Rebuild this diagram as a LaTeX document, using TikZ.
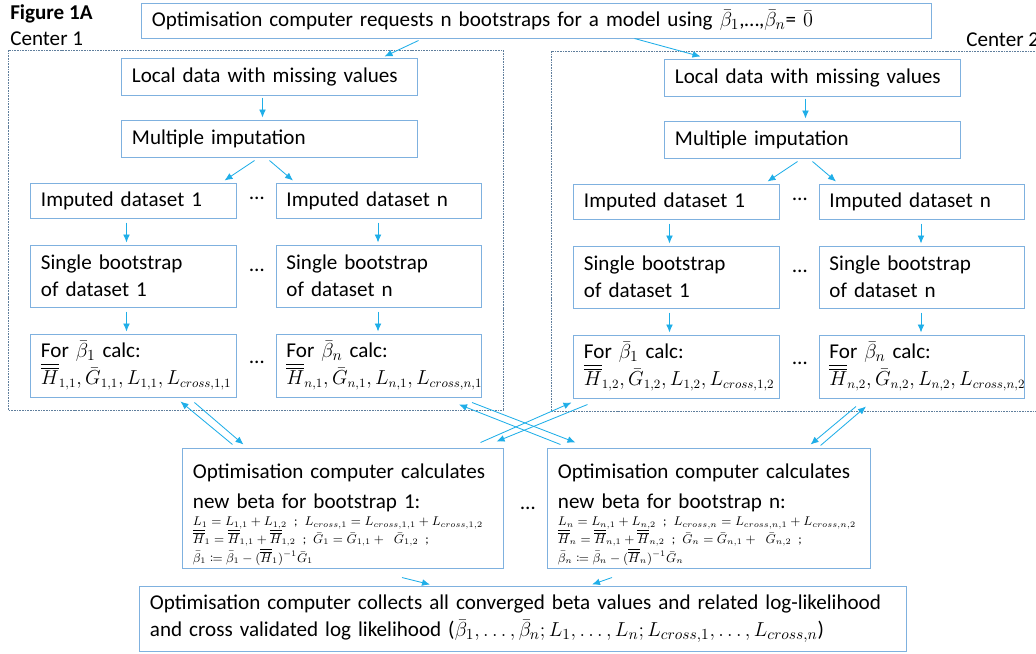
\documentclass[tikz,border=0pt]{standalone}
\usepackage{amsmath,amssymb}
\usepackage{mathtools}
\usepackage{fontspec}
\setmainfont{Carlito}
\usepackage{tikz}
\usetikzlibrary{positioning,arrows.meta,calc}

\definecolor{boxblue}{HTML}{7FB1DF}
\definecolor{arrblue}{HTML}{1FAEE8}
\definecolor{grpgray}{HTML}{5F7E9C}

\newcommand{\HH}{\overline{\overline{H}}}

\tikzset{
  box/.style={draw=boxblue,line width=0.7pt,align=left,inner xsep=0.25cm,inner ysep=0pt},
  smallbox/.style={box,text width=4.625cm},
  widebox/.style={box,text width=6.875cm},
  link/.style={->,draw=arrblue,line width=0.6pt},
  grp/.style={draw=grpgray,line width=0.5pt,dash pattern=on 1.2pt off 0.7pt},
}

\begin{document}
\begin{tikzpicture}[x=0.025cm,y=-0.025cm,>={Latex[length=2mm,width=1.7mm]},
    font=\fontsize{15}{19.5}\selectfont]
  \useasboundingbox (0,0) rectangle (1036,653);
  \clip (0,0) rectangle (1036,653);

  \node[anchor=base west,inner sep=0,font=\fontsize{15}{19.5}\selectfont\bfseries] (fig) at (10,19) {Figure 1A};
  \node[anchor=base west,inner sep=0] (cen1) at (10,45) {Center 1};
  \node[anchor=base west,inner sep=0] (cen2) at (966,46) {Center 2};

  \node[box,text width=19.225cm,minimum height=0.875cm] (req) at (536.5,20.5)
    {Optimisation computer requests n bootstraps for a model using $\bar{\beta}_1$,…,$\bar{\beta}_n$= $\bar{0}$};

  % one block per center
  \foreach \c/\dx/\dy in {1/0/0,2/543/1}{
    \begin{scope}[shift={(\dx,\dy)}]
      \draw[grp] (8,50) rectangle (503,410);
      \node[widebox,minimum height=0.925cm] (loc\c) at (269.5,76.5) {Local data with missing values};
      \node[widebox,minimum height=0.925cm] (mi\c) at (269.5,138.5) {Multiple imputation};
      \node[smallbox,minimum height=0.875cm] (impA\c) at (133.5,200.5) {Imputed dataset 1};
      \node[smallbox,minimum height=0.875cm] (impN\c) at (379,200.5) {Imputed dataset n};
      \node[smallbox,minimum height=1.55cm] (bootA\c) at (133.5,276) {Single bootstrap\\of dataset 1};
      \node[smallbox,minimum height=1.55cm] (bootN\c) at (379,276) {Single bootstrap\\of dataset n};
      \node[smallbox,minimum height=1.575cm] (forA\c) at (133.5,365.5)
        {For $\bar{\beta}_1$ calc:\\{\fontsize{13.5}{19.5}\selectfont$\HH_{1,\c}, \bar{G}_{1,\c}, L_{1,\c}, L_{cross,1,\c}$}};
      \node[smallbox,minimum height=1.575cm] (forN\c) at (379,365.5)
        {For $\bar{\beta}_n$ calc:\\{\fontsize{13.5}{19.5}\selectfont$\HH_{n,\c}, \bar{G}_{n,\c}, L_{n,\c}, L_{cross,n,\c}$}};
      \node (dotI\c) at (257,198) {…};
      \node (dotB\c) at (257,270) {…};
      \node (dotF\c) at (257,362) {…};
    \end{scope}
    \draw[link] ($(loc\c.south)+(-7,2)$) -- ($(mi\c.north)+(-7,-2)$);
    \draw[link] ($(mi\c.south)+(-15,3)$) -- ($(impA\c.north)+(91,-2)$);
    \draw[link] ($(mi\c.south)+(0,3)$) -- ($(impN\c.north)+(-86,-2)$);
    \draw[link] ($(impA\c.south)+(-7,4)$) -- ($(bootA\c.north)+(-7,-2)$);
    \draw[link] ($(impN\c.south)+(-1,4)$) -- ($(bootN\c.north)+(-1,-2)$);
    \draw[link] ($(bootA\c.south)+(-7,4)$) -- ($(forA\c.north)+(-7,-2)$);
    \draw[link] ($(bootN\c.south)+(-1,4)$) -- ($(forN\c.north)+(-1,-2)$);
  }

  \node[box,text width=7.5cm,minimum height=3cm] (calcA) at (343,508)
    {\fontsize{15}{21}\selectfont\rule{0pt}{20pt}Optimisation computer calculates\\new beta for bootstrap 1:\par
     \fontsize{9}{12.5}\selectfont
     $L_1 = L_{1,1} + L_{1,2}$ ; $L_{cross,1} = L_{cross,1,1} + L_{cross,1,2}$\\
     $\HH_1 = \HH_{1,1} + \HH_{1,2}$ ; $\bar{G}_1 = \bar{G}_{1,1} +\ \bar{G}_{1,2}$ ;\\[-6pt]
     $\bar{\beta}_1 \coloneqq \bar{\beta}_1 - (\HH_1)^{-1}\bar{G}_1$};
  \node[box,text width=7.55cm,minimum height=3cm] (calcB) at (709,508)
    {\fontsize{15}{21}\selectfont\rule{0pt}{20pt}Optimisation computer calculates\\new beta for bootstrap n:\par
     \fontsize{9}{12.5}\selectfont
     $L_n = L_{n,1} + L_{n,2}$ ; $L_{cross,n} = L_{cross,n,1} + L_{cross,n,2}$\\
     $\HH_n = \HH_{n,1} + \HH_{n,2}$ ; $\bar{G}_n = \bar{G}_{n,1} +\ \bar{G}_{n,2}$ ;\\[-6pt]
     $\bar{\beta}_n \coloneqq \bar{\beta}_n - (\HH_n)^{-1}\bar{G}_n$};
  \node (dotC) at (528,508) {…};

  \node[box,text width=18.65cm,minimum height=1.625cm] (fin) at (523,618.5)
    {\fontsize{15}{21}\selectfont Optimisation computer collects all converged beta values and related log-likelihood\\
     and cross validated log likelihood ($\bar{\beta}_1, \ldots, \bar{\beta}_n; L_1, \ldots, L_n; L_{cross,1}, \ldots, L_{cross,n}$)};

  % requests to the centers
  \draw[link] ($(req.south)+(-118,2)$) -- ($(loc1.north)+(115,-1)$);
  \draw[link] ($(req.south)+(98,0)$) -- ($(loc2.north)+(-112,-2)$);

  % results back and forth
  \draw[link] ($(calcA.north west)+(50,-3)$) -- ($(forA1.south west)+(150,4)$);
  \draw[link] ($(forA1.south west)+(164,5)$) -- ($(calcA.north west)+(61,-3)$);
  \draw[link] ($(forN1.south east)+(-10,5)$) -- ($(calcB.north west)+(28,-5)$);
  \draw[link] ($(calcB.north west)+(13,-3)$) -- ($(forN1.south east)+(-23,7)$);
  \draw[link] ($(calcA.north east)+(-23,-5)$) -- ($(forA2.south west)+(-2,4)$);
  \draw[link] ($(forA2.south west)+(14,6)$) -- ($(calcA.north east)+(-7,-6)$);
  \draw[link] ($(forN2.south west)+(37,8)$) -- ($(calcB.north east)+(-60,-3)$);
  \draw[link] ($(calcB.north east)+(-50,-2)$) -- ($(forN2.south west)+(47,8)$);

  \draw[link] ($(calcA.south)+(59,9)$) -- ($(fin.north)+(-93,-1)$);
  \draw[link] ($(calcB.south)+(-97,9)$) -- ($(fin.north)+(69,-1)$);
\end{tikzpicture}
\end{document}
